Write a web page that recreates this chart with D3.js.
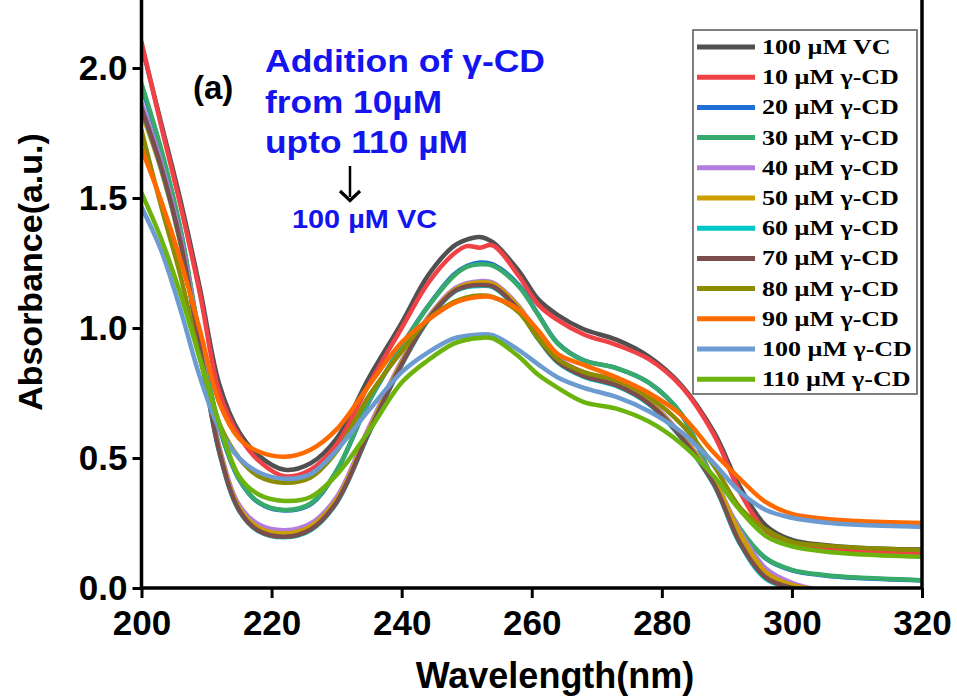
<!DOCTYPE html>
<html><head><meta charset="utf-8">
<script src="https://cdn.jsdelivr.net/npm/d3@7/dist/d3.min.js"></script>
<style>body{margin:0;background:#fff}</style>
</head><body>
<svg id="c" width="957" height="698"></svg>
<script>
// ---------- data ----------
const wavelengths = [200,203,206,209,212,215,218,222,226,230,235,240,244,248,250,252,254,258,261,264,268,273,278,283,288,292,296,300,305,310,320];

const vc100 = [2.09,1.79,1.49,1.15,0.78,0.60,0.51,0.455,0.48,0.575,0.81,1.02,1.20,1.315,1.34,1.35,1.33,1.22,1.11,1.05,0.995,0.955,0.89,0.78,0.60,0.39,0.24,0.185,0.165,0.155,0.148];
const cd10  = [2.10,1.78,1.47,1.13,0.75,0.585,0.49,0.43,0.455,0.552,0.785,1.00,1.17,1.285,1.315,1.309,1.318,1.20,1.09,1.03,0.975,0.935,0.88,0.775,0.59,0.37,0.22,0.17,0.15,0.142,0.135];
const cd20  = [1.93,1.685,1.375,0.955,0.615,0.418,0.328,0.298,0.322,0.45,0.718,0.93,1.082,1.205,1.238,1.252,1.245,1.165,1.052,0.942,0.876,0.846,0.79,0.668,0.408,0.228,0.113,0.068,0.048,0.038,0.029];
const cd30  = [1.94,1.69,1.38,0.96,0.62,0.42,0.33,0.30,0.325,0.452,0.72,0.93,1.08,1.20,1.235,1.245,1.24,1.16,1.05,0.94,0.875,0.846,0.79,0.67,0.41,0.23,0.115,0.07,0.05,0.04,0.03];
const cd40  = [1.865,1.64,1.35,0.94,0.54,0.32,0.245,0.222,0.248,0.35,0.62,0.875,1.04,1.15,1.172,1.18,1.175,1.085,0.975,0.885,0.83,0.79,0.72,0.59,0.42,0.22,0.075,0.02,-0.01,-0.02,-0.03];
const cd50  = [1.83,1.61,1.325,0.925,0.53,0.31,0.232,0.21,0.237,0.34,0.61,0.868,1.035,1.145,1.168,1.175,1.17,1.08,0.97,0.878,0.823,0.785,0.715,0.585,0.415,0.21,0.06,0.012,-0.01,-0.02,-0.03];
const cd60  = [1.843,1.617,1.327,0.917,0.517,0.297,0.218,0.195,0.222,0.327,0.597,0.857,1.027,1.137,1.157,1.162,1.157,1.067,0.957,0.867,0.812,0.777,0.707,0.577,0.397,0.17,0.035,0.0,-0.02,-0.03,-0.04];
const cd70  = [1.846,1.62,1.33,0.92,0.52,0.30,0.22,0.197,0.225,0.33,0.60,0.86,1.03,1.14,1.16,1.165,1.16,1.07,0.96,0.87,0.815,0.78,0.71,0.58,0.40,0.175,0.04,0.0,-0.02,-0.03,-0.04];
const cd80  = [1.76,1.47,1.20,0.88,0.63,0.50,0.43,0.405,0.425,0.525,0.74,0.91,1.03,1.10,1.118,1.125,1.12,1.06,0.96,0.88,0.83,0.80,0.735,0.63,0.47,0.31,0.225,0.177,0.163,0.155,0.146];
const cd90  = [1.69,1.49,1.26,0.99,0.71,0.575,0.525,0.505,0.532,0.61,0.78,0.945,1.03,1.095,1.112,1.12,1.118,1.07,0.99,0.90,0.858,0.81,0.75,0.665,0.52,0.42,0.33,0.285,0.266,0.258,0.25];
const cd100 = [1.465,1.30,1.07,0.81,0.61,0.50,0.445,0.42,0.438,0.53,0.685,0.83,0.905,0.96,0.97,0.975,0.972,0.915,0.86,0.81,0.77,0.735,0.68,0.60,0.48,0.37,0.30,0.27,0.252,0.243,0.235];
const cd110 = [1.52,1.345,1.13,0.88,0.63,0.43,0.36,0.335,0.35,0.435,0.605,0.79,0.875,0.94,0.955,0.962,0.96,0.89,0.82,0.77,0.715,0.69,0.64,0.555,0.43,0.30,0.20,0.16,0.14,0.13,0.12];

const seriesNames = ["100 µM VC","10 µM γ-CD","20 µM γ-CD","30 µM γ-CD","40 µM γ-CD","50 µM γ-CD","60 µM γ-CD","70 µM γ-CD","80 µM γ-CD","90 µM γ-CD","100 µM γ-CD","110 µM γ-CD"];
const seriesValues = [vc100,cd10,cd20,cd30,cd40,cd50,cd60,cd70,cd80,cd90,cd100,cd110];
const xTicks = [200,220,240,260,280,300,320];
const yTicks = [0.0,0.5,1.0,1.5,2.0];

// ---------- style ----------
const colors = ["#505050","#ef4146","#1f6fd6","#38aa6c","#b37ddf","#cc9e00","#00c7c7","#7b4d4d","#8c8c00","#ff6a00","#6b9bd1","#6cb30e"];
const SANS = "'Liberation Sans', Arial, Helvetica, sans-serif";
const SERIF = "'Liberation Serif', 'Times New Roman', serif";

const svg = d3.select("#c");
const L = 141.5, R = 922, B = 588, T = -5;
const x = d3.scaleLinear().domain([200,320]).range([L,R]);
const y = d3.scaleLinear().domain([0,2]).range([B,68]);

svg.append("defs").append("clipPath").attr("id","clip")
  .append("rect").attr("x",L).attr("y",T).attr("width",R-L).attr("height",B-T);

const line = d3.line()
  .x((d,i)=>x(wavelengths[i]))
  .y(d=>y(d))
  .curve(d3.curveCatmullRom.alpha(0.5));

const gLines = svg.append("g").attr("clip-path","url(#clip)");
seriesValues.forEach((vals,k)=>{
  gLines.append("path").attr("d",line(vals))
    .attr("fill","none").attr("stroke",colors[k])
    .attr("stroke-width",4.5).attr("stroke-linejoin","round").attr("stroke-linecap","round");
});

// axes
const xAxis = d3.axisBottom(x).tickValues(xTicks).tickFormat(d3.format("d")).tickSize(10).tickSizeOuter(0).tickPadding(12);
const gx = svg.append("g").attr("transform",`translate(0,${B})`).call(xAxis);
const yAxis = d3.axisLeft(y).tickValues(yTicks).tickFormat(d3.format(".1f")).tickSize(9).tickSizeOuter(0).tickPadding(5);
const gy = svg.append("g").attr("transform",`translate(${L},0)`).call(yAxis);
[gx,gy].forEach(g=>{
  g.select(".domain").remove();
  g.selectAll(".tick line").attr("stroke","#000").attr("stroke-width",3);
  g.selectAll(".tick text").attr("fill","#000").style("font-family",SANS).style("font-weight","bold").style("font-size","35px");
});

// frame
svg.append("path").attr("d",`M${L},${T}V${B}H${R}V${T}`)
  .attr("fill","none").attr("stroke","#000").attr("stroke-width",3.5);

// axis titles
svg.append("text").attr("x",555).attr("y",688).attr("text-anchor","middle")
  .style("font-family",SANS).style("font-weight","bold").style("font-size","36px").text("Wavelength(nm)");
svg.append("text").attr("transform","translate(42,272) rotate(-90)").attr("text-anchor","middle")
  .style("font-family",SANS).style("font-weight","bold").style("font-size","34px").text("Absorbance(a.u.)");

// annotations
const blue = "#1414ee";
const ann = [["Addition of γ-CD",72,280],["from 10µM",113,177],["upto 110 µM",153,203]];
ann.forEach(([t,yy,w])=>{
  svg.append("text").attr("x",265).attr("y",yy).attr("fill",blue)
    .attr("textLength",w).attr("lengthAdjust","spacingAndGlyphs")
    .style("font-family",SANS).style("font-weight","bold").style("font-size","32px").text(t);
});
svg.append("text").attr("x",292).attr("y",228).attr("fill",blue)
  .attr("textLength",145).attr("lengthAdjust","spacingAndGlyphs")
  .style("font-family",SANS).style("font-weight","bold").style("font-size","26px").text("100 µM VC");
svg.append("text").attr("x",193).attr("y",99).attr("fill","#000")
  .style("font-family",SANS).style("font-weight","bold").style("font-size","33px").text("(a)");
// arrow
svg.append("line").attr("x1",350).attr("x2",350).attr("y1",166).attr("y2",197).attr("stroke","#000").attr("stroke-width",2.5);
svg.append("path").attr("d","M340,191L350,200.5L360,191").attr("fill","none").attr("stroke","#000").attr("stroke-width",3.2).attr("stroke-linejoin","miter");

// legend
const lg = svg.append("g");
lg.append("rect").attr("x",693).attr("y",30).attr("width",224).attr("height",364)
  .attr("fill","#fff").attr("stroke","#555").attr("stroke-width",1.5);
const rowY = i => 47 + i*30.2;
const texts = [];
seriesNames.forEach((n,i)=>{
  lg.append("line").attr("x1",697).attr("x2",755).attr("y1",rowY(i)).attr("y2",rowY(i))
    .attr("stroke",colors[i]).attr("stroke-width",5);
  const t = lg.append("text").attr("transform",`translate(762,${rowY(i)+7})`)
    .style("font-family",SERIF).style("font-weight","bold").style("font-size","20.5px").text(n);
  texts.push(t);
});
let maxW = d3.max(texts, t=>t.node().getComputedTextLength());
const sx = 150/maxW;
texts.forEach((t,i)=>t.attr("transform",`translate(762,${rowY(i)+7}) scale(${sx},1)`));
</script>
</body></html>
